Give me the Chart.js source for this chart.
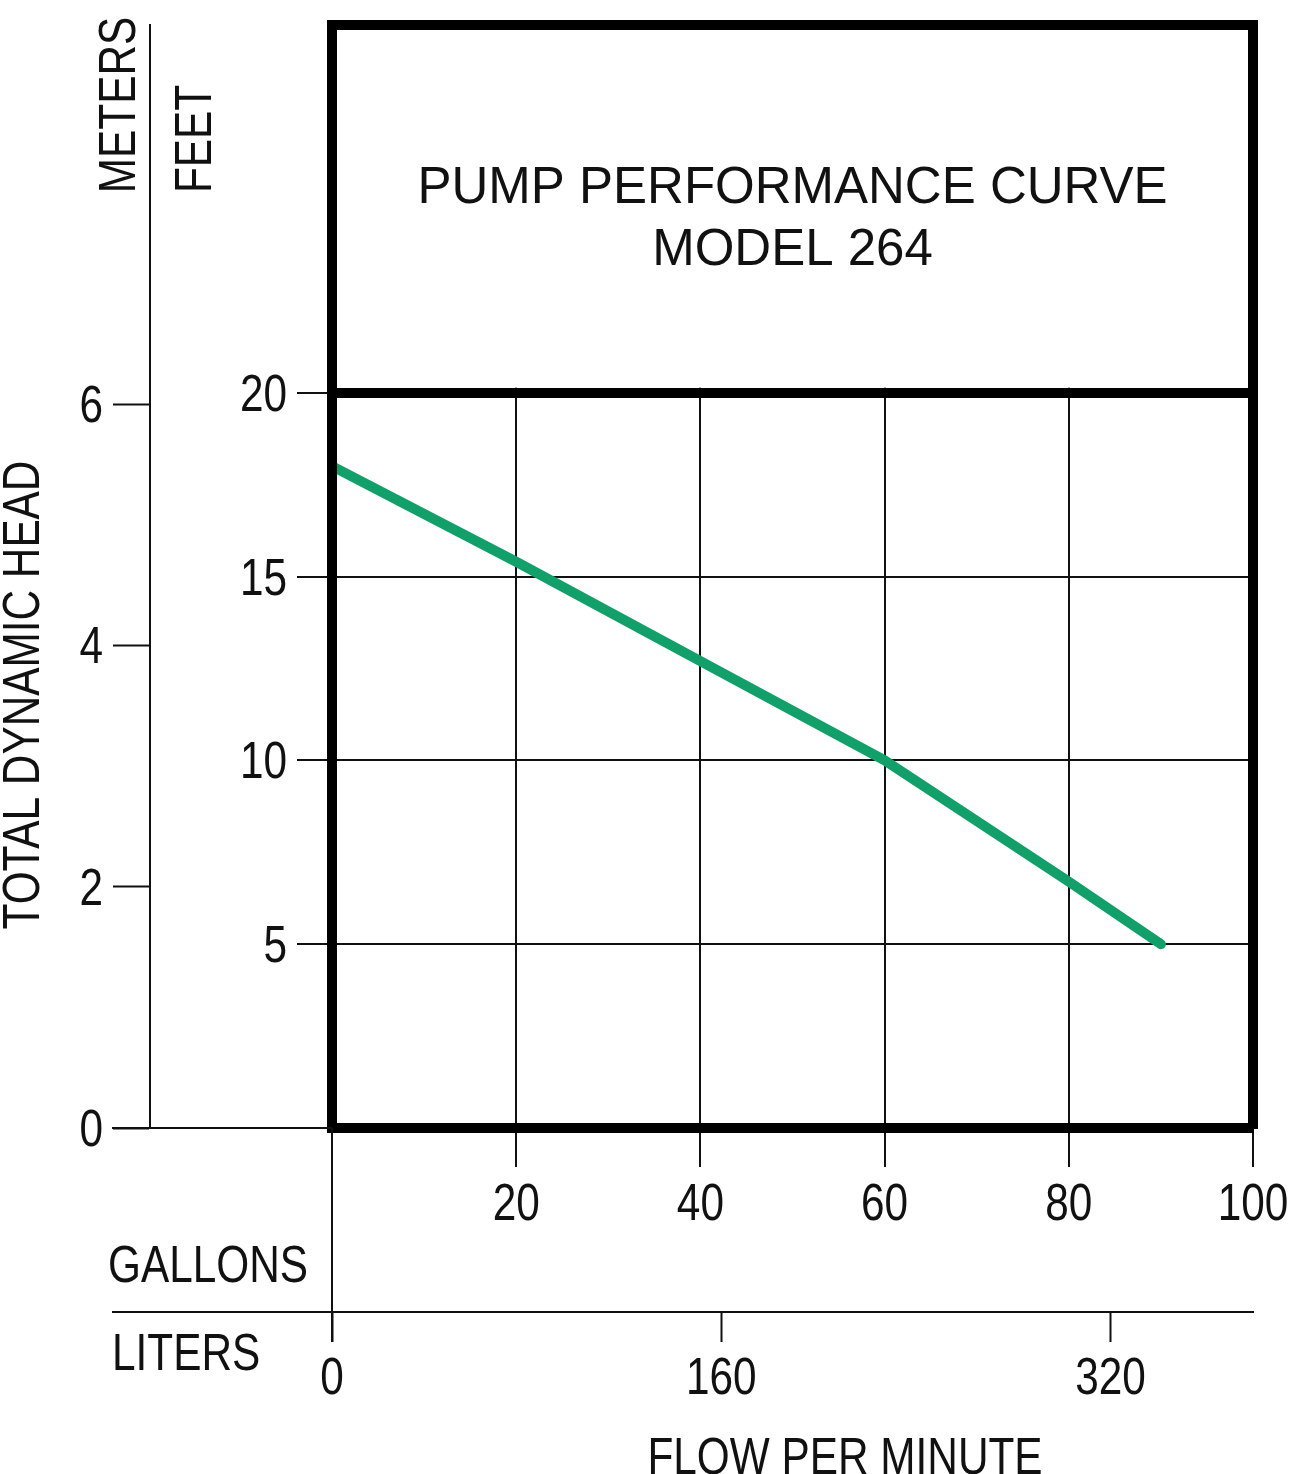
<!DOCTYPE html>
<html lang="en">
<head>
    <meta charset="UTF-8">
    <title>Pump Performance Curve - Model 264</title>
    <style>
        html, body { margin: 0; padding: 0; background: #fff; }
        canvas { display: block; }
    </style>
</head>
<body>
    <canvas id="pumpChart" width="1300" height="1474"></canvas>

<script src="https://cdn.jsdelivr.net/npm/chart.js"></script>
<script>
    // Datos
    const gallons = [0, 20, 40, 60, 80, 90];
    const headFeet = [18.0, 15.4, 12.7, 10.0, 6.7, 5.0];

    const gallonTicks = [0, 20, 40, 60, 80, 100];
    const literTicks = [0, 160, 320];
    const feetTicks = [5, 10, 15, 20];
    const meterTicks = [0, 2, 4, 6];

    const FEET_MAX = 30;          // top of the title box
    const GAL_MAX = 100;
    const M_PER_FT = 0.3048;
    const L_PER_GAL = 3.78541;

    const sans = "'Liberation Sans', Arial, sans-serif";
    const ink = '#111';
    const SQUEEZE = 0.83;         // the reference lettering is condensed
    const CAP = 18;               // half cap height at 51px

    const setTicks = list => scale => { scale.ticks = list.map(v => ({ value: v })); };

    // condensed text, optionally rotated to read bottom-up
    function label(ctx, text, x, y, align, rotated) {
        ctx.save();
        ctx.translate(x, y);
        if (rotated) ctx.rotate(-Math.PI / 2);
        ctx.scale(SQUEEZE, 1);
        ctx.textAlign = align;
        ctx.fillText(text, 0, 0);
        ctx.restore();
    }

    const decor = {
        id: 'decor',
        beforeDatasetsDraw(chart) {
            const { ctx, chartArea: a, scales } = chart;
            const y20 = scales.y.getPixelForValue(20);
            // title box: hide the vertical grid above 20 ft
            ctx.save();
            ctx.fillStyle = '#fff';
            ctx.fillRect(a.left, a.top, a.right - a.left, y20 - 5 - a.top);
            ctx.fillStyle = ink;
            ctx.font = '51px ' + sans;
            ctx.textAlign = 'center';
            ctx.textBaseline = 'alphabetic';
            const cx = (a.left + a.right) / 2;
            ctx.fillText('PUMP PERFORMANCE CURVE', cx, 203);
            ctx.fillText('MODEL 264', cx, 265);
            ctx.restore();
        },
        afterDraw(chart) {
            const { ctx, chartArea: a, scales } = chart;
            const { x, xl, y, ym } = scales;
            const y0 = y.getPixelForValue(0);
            const x0 = x.getPixelForValue(0);
            ctx.save();
            ctx.strokeStyle = ink;
            ctx.lineWidth = 2;
            ctx.beginPath();
            // base line left of the box, liters line extension, 0 flow line
            ctx.moveTo(112, y0); ctx.lineTo(a.left, y0);
            ctx.moveTo(112, xl.top); ctx.lineTo(a.left, xl.top);
            ctx.moveTo(x0, a.bottom); ctx.lineTo(x0, xl.top + 30);
            ctx.stroke();

            ctx.fillStyle = ink;
            ctx.font = '51px ' + sans;
            ctx.textBaseline = 'alphabetic';

            // tick labels from the scales
            feetTicks.forEach(v => label(ctx, String(v), y.right - 45, y.getPixelForValue(v) + CAP, 'right'));
            meterTicks.forEach(v => label(ctx, String(v), ym.right - 47, ym.getPixelForValue(v) + CAP, 'right'));
            gallonTicks.filter(v => v > 0).forEach(v => label(ctx, String(v), x.getPixelForValue(v), x.top + 92, 'center'));
            literTicks.forEach(v => label(ctx, String(v), xl.getPixelForValue(v), xl.top + 82, 'center'));

            // axis names
            label(ctx, 'METERS', 135, 105, 'center', true);
            label(ctx, 'FEET', 211, 139, 'center', true);
            label(ctx, 'TOTAL DYNAMIC HEAD', 39, 695, 'center', true);
            label(ctx, 'GALLONS', 108, 1282, 'left');
            label(ctx, 'LITERS', 112, 1370, 'left');
            label(ctx, 'FLOW PER MINUTE', 845, 1474, 'center');
            ctx.restore();
        }
    };

    const ctx = document.getElementById('pumpChart').getContext('2d');
    const pumpChart = new Chart(ctx, {
        type: 'line',
        data: {
            datasets: [{
                label: 'Model 264',
                data: gallons.map((g, i) => ({ x: g, y: headFeet[i] })),
                borderColor: '#12a06a',
                borderWidth: 10,
                borderCapStyle: 'round',
                pointRadius: 0,
                tension: 0,
                xAxisID: 'x',
                yAxisID: 'y'
            }]
        },
        options: {
            responsive: false,
            animation: false,
            devicePixelRatio: 1,
            layout: { padding: 0 },
            plugins: {
                legend: { display: false },
                tooltip: { enabled: false }
            },
            scales: {
                x: {
                    type: 'linear', position: 'bottom', weight: 0,
                    min: 0, max: GAL_MAX,
                    afterBuildTicks: setTicks(gallonTicks),
                    afterFit: s => { s.height = 184; },
                    grid: { color: ink, lineWidth: 2, tickLength: 39, tickWidth: 2, tickColor: ink },
                    border: { display: true, color: '#000', width: 10, z: 1 },
                    ticks: { display: false }
                },
                xl: {
                    type: 'linear', position: 'bottom', weight: 1,
                    min: 0, max: GAL_MAX * L_PER_GAL,
                    afterBuildTicks: setTicks(literTicks),
                    afterFit: s => { s.height = 162; },
                    grid: { drawOnChartArea: false, tickLength: 30, tickWidth: 2, tickColor: ink },
                    border: { display: true, color: ink, width: 2 },
                    ticks: { display: false }
                },
                xt: {
                    type: 'linear', position: 'top',
                    min: 0, max: GAL_MAX,
                    afterFit: s => { s.height = 25; },
                    grid: { drawOnChartArea: false, drawTicks: false },
                    border: { display: true, color: '#000', width: 10, z: 1 },
                    ticks: { display: false }
                },
                y: {
                    type: 'linear', position: 'left', weight: 0,
                    min: 0, max: FEET_MAX,
                    afterBuildTicks: setTicks(feetTicks),
                    afterFit: s => { s.width = 182; },
                    grid: {
                        color: c => (c.tick && c.tick.value === 20 ? '#000' : ink),
                        lineWidth: c => (c.tick && c.tick.value === 20 ? 10 : 2),
                        tickLength: 35, tickWidth: 2, tickColor: ink
                    },
                    border: { display: true, color: '#000', width: 10, z: 1 },
                    ticks: { display: false }
                },
                ym: {
                    type: 'linear', position: 'left', weight: 1,
                    min: 0, max: FEET_MAX * M_PER_FT,
                    afterBuildTicks: setTicks(meterTicks),
                    afterFit: s => { s.width = 150; },
                    grid: { drawOnChartArea: false, tickLength: 37, tickWidth: 2, tickColor: ink },
                    border: { display: true, color: ink, width: 2 },
                    ticks: { display: false }
                },
                yr: {
                    type: 'linear', position: 'right',
                    min: 0, max: FEET_MAX,
                    afterFit: s => { s.width = 47; },
                    grid: { drawOnChartArea: false, drawTicks: false },
                    border: { display: true, color: '#000', width: 10, z: 1 },
                    ticks: { display: false }
                }
            }
        },
        plugins: [decor]
    });
</script>
</body>
</html>
